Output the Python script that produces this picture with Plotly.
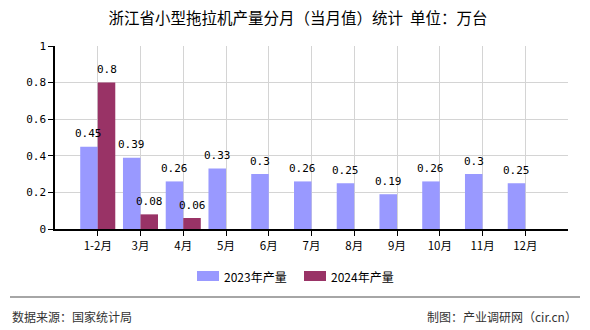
import plotly.graph_objects as go

months = ["1-2月", "3月", "4月", "5月", "6月", "7月", "8月", "9月", "10月", "11月", "12月"]
output_2023 = [0.45, 0.39, 0.26, 0.33, 0.3, 0.26, 0.25, 0.19, 0.26, 0.3, 0.25]
output_2024 = [0.8, 0.08, 0.06, None, None, None, None, None, None, None, None]
y_ticks = [0, 0.2, 0.4, 0.6, 0.8, 1]
y_tick_labels = ["0", "0.2", "0.4", "0.6", "0.8", "1"]
series_names = ["2023年产量", "2024年产量"]
series_colors = ["#9999FF", "#993366"]

FONT = "Noto Sans CJK SC"
MONO = "DejaVu Sans Mono"

PLOT_W = 513
BARGAP = 0.18
SLOT = PLOT_W / 12
BAR_W = SLOT * (1 - BARGAP) / 2

fig = go.Figure()
for vals, name, color in zip([output_2023, output_2024], series_names, series_colors):
    fig.add_trace(go.Bar(
        x=months, y=vals, name=name,
        marker=dict(color=color, line_width=0),
        showlegend=False,
    ))

# value labels above each bar, drawn on top of all bars
for side, vals in zip([-1, 1], [output_2023, output_2024]):
    for m, v in zip(months, vals):
        if v is None:
            continue
        fig.add_annotation(x=m, y=v, text=f"{v:g}", showarrow=False,
                           xshift=side * BAR_W / 2, yshift=13,
                           xanchor="center", yanchor="middle",
                           font=dict(family=MONO, size=11, color="#000000"))

fig.update_layout(
    width=590, height=330,
    margin=dict(l=55, r=22, t=46, b=101),
    paper_bgcolor="white", plot_bgcolor="white",
    barmode="group", bargap=BARGAP, bargroupgap=0,
    title=dict(text="浙江省小型拖拉机产量分月（当月值）统计  单位：万台",
               x=0.505, xref="container", xanchor="center",
               y=0.945, yref="container", yanchor="middle",
               font=dict(family=FONT, size=15.5, color="#000000")),
    font=dict(family=FONT, size=12, color="#000000"),
)

fig.update_xaxes(
    range=[-1, 11], showline=True, linecolor="#000000", linewidth=1.5,
    ticks="outside", ticklen=5, tickcolor="#000000",
    showgrid=True, gridcolor="#d4d4d4", gridwidth=1,
    tickfont=dict(family=FONT, size=11.5, color="#000000"),
)
fig.update_yaxes(
    range=[0, 1], tickvals=y_ticks, ticktext=y_tick_labels,
    showline=True, linecolor="#000000", linewidth=1.5,
    ticks="outside", ticklen=5, tickcolor="#000000",
    showgrid=True, gridcolor="#d4d4d4", gridwidth=1, zeroline=False,
    tickfont=dict(family=MONO, size=11, color="#000000"),
)

# legend drawn as swatches and labels below the plot
legend_x = [197, 304]
for lx, name, color in zip(legend_x, series_names, series_colors):
    fig.add_shape(type="rect", xref="x domain", yref="paper",
                  x0=(lx - 55) / PLOT_W, x1=(lx + 22 - 55) / PLOT_W,
                  y0=(229 - 271) / 183, y1=(229 - 281) / 183,
                  fillcolor=color, line_width=0)
    fig.add_annotation(text=name, xref="x domain", yref="paper",
                       x=(lx + 25 - 55) / PLOT_W, y=(229 - 276) / 183,
                       xanchor="left", yanchor="middle", showarrow=False,
                       font=dict(family=FONT, size=12, color="#000000"))

# footer rule and source notes
fig.add_shape(type="line", xref="paper", yref="paper",
              x0=(10 - 55) / PLOT_W, x1=(580 - 55) / PLOT_W,
              y0=(229 - 297) / 183, y1=(229 - 297) / 183,
              line=dict(color="#888888", width=1.5))
fig.add_annotation(text="数据来源：国家统计局", xref="paper", yref="paper",
                   x=(10 - 55) / PLOT_W, y=(229 - 316) / 183, xanchor="left", yanchor="middle",
                   showarrow=False, font=dict(family=FONT, size=12, color="#333333"))
fig.add_annotation(text="制图：产业调研网（cir.cn）", xref="paper", yref="paper",
                   x=(579 - 55) / PLOT_W, y=(229 - 316) / 183, xanchor="right", yanchor="middle",
                   showarrow=False, font=dict(family=FONT, size=12, color="#333333"))

fig.write_html("out.html")
